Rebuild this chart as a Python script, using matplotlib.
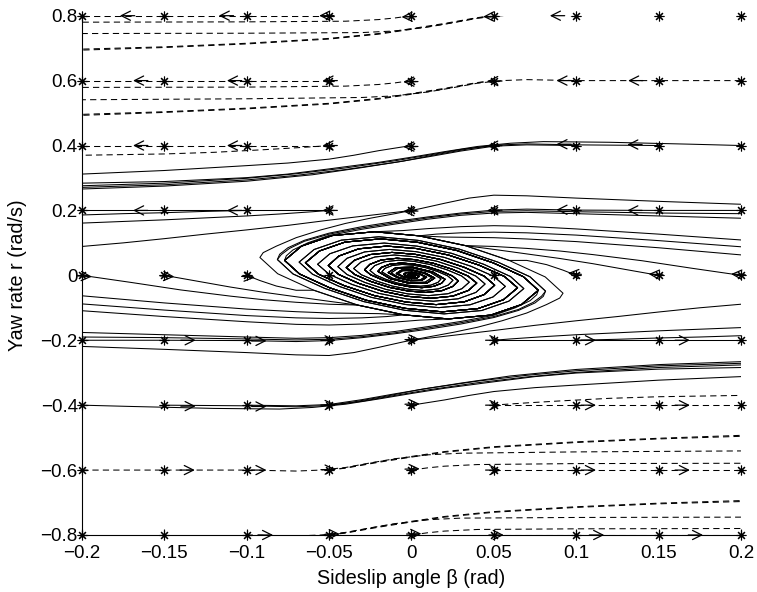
import numpy as np
import matplotlib
matplotlib.use('Agg')
import matplotlib.pyplot as plt

plt.rcParams['font.family'] = ['Liberation Sans', 'DejaVu Sans']

# initial conditions (asterisks)
beta_starts = [-0.2, -0.15, -0.1, -0.05, 0.0, 0.05, 0.1, 0.15, 0.2]
r_starts = [-0.8, -0.6, -0.4, -0.2, 0.0, 0.2, 0.4, 0.6, 0.8]

xtick_vals = [-0.2, -0.15, -0.1, -0.05, 0, 0.05, 0.1, 0.15, 0.2]
xtick_text = ['\u22120.2', '\u22120.15', '\u22120.1', '\u22120.05', '0', '0.05', '0.1', '0.15', '0.2']
ytick_vals = [-0.8, -0.6, -0.4, -0.2, 0, 0.2, 0.4, 0.6, 0.8]
ytick_text = ['\u22120.8', '\u22120.6', '\u22120.4', '\u22120.2', '0', '0.2', '0.4', '0.6', '0.8']

# spiral core A (its point mirror is the second arm)
core_a = [(-0.0920, 0.0550), (-0.0812, 0.0049), (-0.0593, -0.0459), (-0.0327, -0.0916),
          (-0.0046, -0.1217), (0.0224, -0.1343), (0.0481, -0.1225), (0.0668, -0.0899),
          (0.0770, -0.0460), (0.0679, -0.0041), (0.0496, 0.0384), (0.0274, 0.0767),
          (0.0038, 0.1017), (-0.0187, 0.1124), (-0.0403, 0.1025), (-0.0558, 0.0752),
          (-0.0644, 0.0385), (-0.0564, 0.0034), (-0.0409, -0.0316), (-0.0224, -0.0626),
          (-0.0031, -0.0825), (0.0150, -0.0902), (0.0321, -0.0816), (0.0441, -0.0594),
          (0.0505, -0.0302), (0.0442, -0.0027), (0.0320, 0.0248), (0.0175, 0.0491),
          (0.0024, 0.0646), (-0.0118, 0.0707), (-0.0251, 0.0640), (-0.0346, 0.0465),
          (-0.0396, 0.0237), (-0.0343, 0.0021), (-0.0246, -0.0190), (-0.0133, -0.0372),
          (-0.0018, -0.0485), (0.0088, -0.0527), (0.0185, -0.0472), (0.0252, -0.0339),
          (0.0285, -0.0171), (0.0247, -0.0015), (0.0177, 0.0137), (0.0096, 0.0269),
          (0.0013, 0.0350), (-0.0063, 0.0380), (-0.0134, 0.0340), (-0.0182, 0.0245),
          (-0.0204, 0.0122), (-0.0130, -0.0101), (-0.0009, -0.0251), (0.0094, -0.0238),
          (0.0141, -0.0084), (0.0086, 0.0066), (0.0006, 0.0165), (-0.0062, 0.0157),
          (-0.0092, 0.0055), (-0.0053, -0.0041), (-0.0004, -0.0096), (0.0034, -0.0085),
          (0.0048, -0.0029), (0.0027, 0.0021), (0.0002, 0.0051), (-0.0018, 0.0045),
          (-0.0025, 0.0015), (0.0, 0.0)]

# spiral core B (inner windings between those of A)
core_b = [(-0.0814, 0.0487), (-0.0719, 0.0043), (-0.0525, -0.0406), (-0.0289, -0.0810),
          (-0.0041, -0.1077), (0.0198, -0.1188), (0.0426, -0.1084), (0.0591, -0.0796),
          (0.0682, -0.0408), (0.0601, -0.0036), (0.0439, 0.0340), (0.0243, 0.0679),
          (0.0034, 0.0900), (-0.0166, 0.0995), (-0.0356, 0.0907), (-0.0495, 0.0666),
          (-0.0570, 0.0341), (-0.0499, 0.0030), (-0.0361, -0.0280), (-0.0198, -0.0555),
          (-0.0027, -0.0730), (0.0133, -0.0798), (0.0284, -0.0722), (0.0391, -0.0526),
          (0.0447, -0.0267), (0.0391, -0.0024), (0.0283, 0.0219), (0.0155, 0.0434),
          (0.0022, 0.0572), (-0.0104, 0.0626), (-0.0222, 0.0566), (-0.0306, 0.0412),
          (-0.0351, 0.0210), (-0.0304, 0.0018), (-0.0217, -0.0168), (-0.0118, -0.0329),
          (-0.0016, -0.0430), (0.0078, -0.0467), (0.0164, -0.0417), (0.0223, -0.0300),
          (0.0252, -0.0151), (0.0219, -0.0013), (0.0157, 0.0121), (0.0085, 0.0238),
          (0.0012, 0.0310), (-0.0056, 0.0336), (-0.0118, 0.0301), (-0.0161, 0.0216),
          (-0.0180, 0.0108), (-0.0115, -0.0089), (-0.0008, -0.0222), (0.0083, -0.0210),
          (0.0124, -0.0074), (0.0076, 0.0059), (0.0006, 0.0146), (-0.0054, 0.0139),
          (-0.0081, 0.0048), (-0.0047, -0.0036), (-0.0003, -0.0085), (0.0030, -0.0076),
          (0.0042, -0.0025), (0.0024, 0.0019), (0.0002, 0.0045), (-0.0015, 0.0039),
          (-0.0022, 0.0013), (0.0, 0.0)]

# trajectories entering the spiral (upper half; the lower half is the point mirror)
tail_u1 = [(0.2, 0.219), (0.15, 0.228), (0.1, 0.238), (0.07, 0.245), (0.05, 0.247), (0.035, 0.238),
           (0.02, 0.222), (0.005, 0.205), (-0.01, 0.19), (-0.025, 0.176), (-0.04, 0.16),
           (-0.055, 0.14), (-0.07, 0.116), (-0.082, 0.09), (-0.09, 0.07)]
tail_u2 = [(0.2, 0.2), (0.15, 0.2), (0.1, 0.201), (0.07, 0.204), (0.05, 0.201), (0.03, 0.192),
           (0.01, 0.18), (-0.01, 0.166), (-0.03, 0.15), (-0.05, 0.13), (-0.065, 0.108),
           (-0.075, 0.085), (-0.08, 0.065)]
tail_u2b = [(0.2, 0.19), (0.15, 0.192), (0.1, 0.196), (0.07, 0.199), (0.05, 0.197), (0.03, 0.189),
            (0.01, 0.177), (-0.01, 0.162), (-0.03, 0.146), (-0.05, 0.127), (-0.065, 0.105),
            (-0.074, 0.083), (-0.079, 0.064)]
tail_u2c = [(0.2, 0.176), (0.15, 0.183), (0.1, 0.19), (0.07, 0.194), (0.05, 0.192), (0.03, 0.185),
            (0.01, 0.173), (-0.01, 0.158), (-0.03, 0.142), (-0.05, 0.123), (-0.063, 0.1),
            (-0.072, 0.078), (-0.076, 0.06)]
tail_u3 = [(0.2, 0.109), (0.15, 0.127), (0.1, 0.143), (0.07, 0.151), (0.05, 0.153), (0.03, 0.15),
           (0.01, 0.144), (-0.005, 0.138)]
tail_u4 = [(0.2, 0.088), (0.15, 0.107), (0.1, 0.124), (0.07, 0.131), (0.05, 0.133), (0.03, 0.131),
           (0.015, 0.127)]
tail_u5 = [(0.2, 0.063), (0.15, 0.085), (0.1, 0.104), (0.07, 0.112), (0.05, 0.116), (0.035, 0.117),
           (0.02, 0.118)]
tail_u6 = [(0.2, 0.0), (0.17, 0.022), (0.14, 0.045), (0.11, 0.064), (0.09, 0.075), (0.07, 0.083),
           (0.05, 0.089)]
tail_u7 = [(0.15, 0.0), (0.13, 0.018), (0.11, 0.036), (0.09, 0.052), (0.07, 0.066), (0.05, 0.08)]
tail_u8 = [(0.1, 0.0), (0.092, 0.016), (0.082, 0.033), (0.07, 0.046)]

# (tail, core, +1 as read / -1 mirrored core, index where the tail joins it)
spiral_joins = [(tail_u1, 'a', 1, 0), (tail_u2, 'b', 1, 0), (tail_u2b, 'b', 1, 0),
                (tail_u2c, 'a', -1, 8), (tail_u3, 'a', -1, 5), (tail_u4, 'a', -1, 4),
                (tail_u5, 'a', -1, 4), (tail_u6, 'a', -1, 3), (tail_u7, 'a', -1, 3),
                (tail_u8, 'a', -1, 2)]

# solid trajectories leaving to the left (upper half)
solid_s1 = [(0.2, 0.4), (0.17, 0.404), (0.12, 0.41), (0.08, 0.412), (0.06, 0.407), (0.04, 0.397),
            (0.02, 0.381), (0.0, 0.364), (-0.02, 0.348), (-0.05, 0.328), (-0.075, 0.312),
            (-0.1, 0.301), (-0.15, 0.289), (-0.2, 0.284)]
solid_s2 = [(0.15, 0.4), (0.1, 0.402), (0.07, 0.405), (0.05, 0.401), (0.03, 0.388), (0.01, 0.37),
            (-0.01, 0.353), (-0.04, 0.331), (-0.07, 0.313), (-0.1, 0.299), (-0.15, 0.284), (-0.2, 0.276)]
solid_s3 = [(0.1, 0.4), (0.07, 0.402), (0.05, 0.398), (0.03, 0.383), (0.01, 0.365), (-0.01, 0.348),
            (-0.04, 0.326), (-0.07, 0.308), (-0.1, 0.294), (-0.15, 0.279), (-0.2, 0.271)]
solid_s4 = [(0.05, 0.4), (0.035, 0.39), (0.015, 0.372), (-0.005, 0.352), (-0.03, 0.332),
            (-0.06, 0.31), (-0.1, 0.29), (-0.15, 0.275), (-0.2, 0.266)]
solid_s5 = [(0.0, 0.4), (-0.01, 0.392), (-0.02, 0.384), (-0.035, 0.37), (-0.05, 0.358),
            (-0.075, 0.346), (-0.1, 0.338), (-0.15, 0.323), (-0.2, 0.312)]
solid_s6 = [(-0.05, 0.2), (-0.1, 0.2), (-0.15, 0.2), (-0.2, 0.2)]
solid_s7 = [(-0.1, 0.2), (-0.125, 0.197), (-0.15, 0.193), (-0.175, 0.19), (-0.2, 0.186)]
solid_s8 = [(-0.05, 0.2), (-0.06, 0.196), (-0.08, 0.189), (-0.1, 0.183), (-0.125, 0.177),
            (-0.15, 0.171), (-0.175, 0.166), (-0.2, 0.161)]
solid_s9 = [(0.0, 0.2), (-0.01, 0.194), (-0.02, 0.188), (-0.035, 0.179), (-0.05, 0.17),
            (-0.075, 0.154), (-0.1, 0.14), (-0.125, 0.127), (-0.15, 0.113), (-0.175, 0.1), (-0.2, 0.089)]
solid_curves = [solid_s1, solid_s2, solid_s3, solid_s4, solid_s5, solid_s6, solid_s7, solid_s8, solid_s9]

# dashed trajectories (upper half)
dash_d1 = [(-0.05, 0.8), (-0.2, 0.8)]
dash_d2 = [(0.0, 0.8), (-0.01, 0.793), (-0.02, 0.788), (-0.04, 0.783), (-0.1, 0.781), (-0.2, 0.78)]
dash_d3 = [(0.1, 0.8), (0.07, 0.803), (0.055, 0.8), (0.04, 0.792), (0.025, 0.778), (0.01, 0.765),
           (-0.01, 0.753), (-0.03, 0.748), (-0.1, 0.746), (-0.2, 0.745)]
dash_d4 = [(0.05, 0.8), (0.04, 0.794), (0.02, 0.776), (0.0, 0.76), (-0.02, 0.745), (-0.05, 0.73),
           (-0.1, 0.715), (-0.15, 0.704), (-0.2, 0.697)]
dash_d5 = [(0.05, 0.8), (0.04, 0.793), (0.02, 0.774), (0.0, 0.758), (-0.02, 0.743), (-0.05, 0.728),
           (-0.1, 0.713), (-0.15, 0.702), (-0.2, 0.694)]
dash_d6 = [(-0.05, 0.6), (-0.2, 0.6)]
dash_d7 = [(0.0, 0.6), (-0.01, 0.593), (-0.02, 0.588), (-0.04, 0.583), (-0.1, 0.58), (-0.2, 0.579)]
dash_d8 = [(0.2, 0.6), (0.1, 0.6), (0.07, 0.603), (0.055, 0.6), (0.04, 0.592), (0.025, 0.578),
           (0.01, 0.565), (-0.01, 0.553), (-0.03, 0.548), (-0.1, 0.544), (-0.2, 0.541)]
dash_d9 = [(0.05, 0.6), (0.04, 0.594), (0.02, 0.576), (0.0, 0.56), (-0.02, 0.545), (-0.05, 0.53),
           (-0.1, 0.515), (-0.15, 0.504), (-0.2, 0.496)]
dash_d10 = [(0.05, 0.6), (0.04, 0.593), (0.02, 0.574), (0.0, 0.558), (-0.02, 0.543), (-0.05, 0.528),
            (-0.1, 0.513), (-0.15, 0.502), (-0.2, 0.493)]
dash_d11 = [(-0.05, 0.4), (-0.2, 0.4)]
dash_d12 = [(-0.055, 0.398), (-0.07, 0.393), (-0.09, 0.387), (-0.12, 0.379), (-0.15, 0.374), (-0.2, 0.37)]
dashed_curves = [dash_d1, dash_d2, dash_d3, dash_d4, dash_d5, dash_d6, dash_d7, dash_d8,
                 dash_d9, dash_d10, dash_d11, dash_d12]

# arrow tips and directions (upper half)
arrows = [(-0.177, 0.8, -1, 0), (-0.117, 0.8, -1, 0), (-0.056, 0.8, -1, 0), (-0.006, 0.796, -1, -0.3),
          (0.0435, 0.797, -1, -0.2), (0.084, 0.8, -1, 0),
          (-0.169, 0.6, -1, 0), (-0.112, 0.6, -1, 0), (-0.054, 0.6, -1, 0), (-0.005, 0.596, -1, -0.3),
          (0.046, 0.598, -1, -0.2), (0.088, 0.6, -1, 0), (0.1315, 0.6, -1, 0),
          (-0.169, 0.4, -1, 0), (-0.112, 0.4, -1, 0), (-0.054, 0.4, -1, 0), (-0.005, 0.396, -1, -0.3),
          (0.046, 0.399, -1, -0.2), (0.088, 0.404, -1, 0), (0.131, 0.403, -1, 0),
          (-0.169, 0.2, -1, 0), (-0.112, 0.2, -1, 0), (-0.054, 0.2, -1, 0), (-0.005, 0.197, -1, -0.3),
          (0.046, 0.2, -1, -0.2), (0.088, 0.202, -1, 0), (0.131, 0.2, -1, 0),
          (0.194, 0.004, -1, 0.7), (0.144, 0.004, -1, 0.7), (0.095, 0.007, -1, 1.2)]

cores = {'a': core_a, 'b': core_b}

fig = plt.figure(figsize=(7.57, 5.92), dpi=100)
ax = fig.add_axes([0.1083, 0.0963, 0.8705, 0.8772])

lw = 0.75
for sgn in (1, -1):
    for tail, name, csgn, idx in spiral_joins:
        pts = list(tail) + [(csgn * b, csgn * r) for b, r in cores[name][idx:]]
        ax.plot([sgn * p[0] for p in pts], [sgn * p[1] for p in pts], color='k', lw=lw)
    for c in solid_curves:
        ax.plot([sgn * p[0] for p in c], [sgn * p[1] for p in c], color='k', lw=lw)
    for c in dashed_curves:
        ax.plot([sgn * p[0] for p in c], [sgn * p[1] for p in c],
                color='k', lw=lw, ls=(0, (6, 4)))
    for b, r, db, dr in arrows:
        L = 0.009
        n = np.hypot(db, dr * 0.4)
        ax.annotate('', xy=(sgn * b, sgn * r),
                    xytext=(sgn * (b - L * db / n), sgn * (r - L * 0.4 * dr / n)),
                    arrowprops=dict(arrowstyle='->, head_length=0.6, head_width=0.3',
                                    color='k', lw=0.9, shrinkA=0, shrinkB=0,
                                    mutation_scale=11))

bb, rr = np.meshgrid(beta_starts, r_starts)
ax.plot(bb.ravel(), rr.ravel(), ls='none', marker=(8, 2, 0), ms=7, mew=0.8,
        color='k', clip_on=False, zorder=5)

ax.set_xlim(-0.2, 0.2)
ax.set_ylim(-0.8, 0.8)
ax.set_xticks(xtick_vals)
ax.set_xticklabels(xtick_text)
ax.set_yticks(ytick_vals)
ax.set_yticklabels(ytick_text)
ax.tick_params(direction='in', length=4, width=0.8, labelsize=13.5)
ax.tick_params(axis='x', pad=7)
ax.tick_params(axis='y', pad=3)
ax.spines['top'].set_visible(False)
ax.spines['right'].set_visible(False)
ax.set_xlabel('Sideslip angle \u03b2 (rad)', fontsize=14.2, labelpad=5)
ax.set_ylabel('Yaw rate r (rad/s)', fontsize=14.2, labelpad=10)

fig.savefig('out.png', dpi=100)
